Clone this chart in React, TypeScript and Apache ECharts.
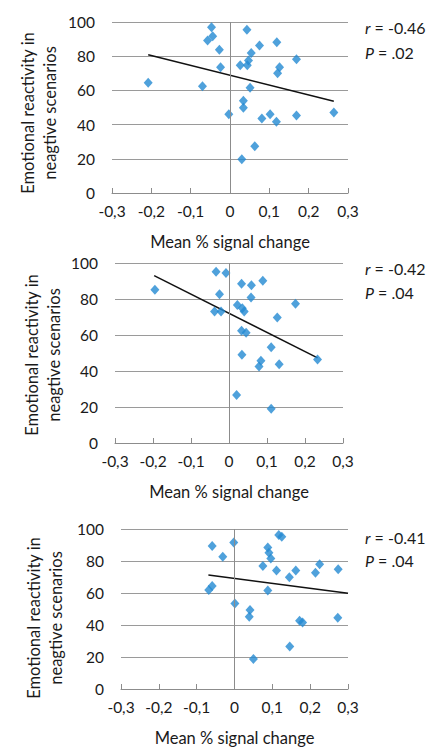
import React, { useEffect, useRef } from "react";
import * as echarts from "echarts";

// Panel 1 data: [mean % signal change, emotional reactivity]
const panel1Points: number[][] = [
  [-0.208, 64.5], [-0.07, 62.5], [-0.047, 96.9], [-0.057, 89.2], [-0.044, 91.6],
  [-0.027, 83.7], [-0.024, 73.5], [-0.003, 46.1], [0.043, 95.5], [0.026, 74.7],
  [0.044, 74.7], [0.047, 77.5], [0.054, 81.8], [0.075, 86.3], [0.051, 61.6],
  [0.034, 53.9], [0.034, 49.8], [0.063, 27.3], [0.03, 19.8], [0.081, 43.5],
  [0.102, 46.1], [0.118, 41.6], [0.119, 88.2], [0.126, 73.5], [0.121, 70.0],
  [0.169, 78.2], [0.169, 45.3], [0.264, 47.1],
];
const panel1Trend: number[][] = [[-0.208, 80.8], [0.264, 53.7]];

const panel2Points: number[][] = [
  [-0.195, 85.2], [-0.034, 95.2], [-0.008, 94.5], [-0.025, 82.6], [-0.038, 73.0],
  [-0.021, 73.0], [0.033, 88.5], [0.059, 87.6], [0.089, 90.2], [0.058, 80.8],
  [0.022, 76.7], [0.035, 74.9], [0.04, 73.0], [0.033, 62.3], [0.045, 61.2],
  [0.034, 49.0], [0.084, 45.7], [0.079, 42.5], [0.111, 53.2], [0.127, 69.7],
  [0.132, 43.8], [0.175, 77.4], [0.233, 46.4], [0.02, 26.6], [0.111, 19.0],
];
const panel2Trend: number[][] = [[-0.197, 93.0], [0.233, 47.3]];

const panel3Points: number[][] = [
  [-0.059, 89.4], [-0.031, 82.7], [-0.002, 91.5], [-0.068, 61.9], [-0.059, 64.4],
  [0.001, 53.5], [0.041, 49.4], [0.039, 45.2], [0.05, 18.8], [0.075, 76.9],
  [0.088, 61.5], [0.111, 74.0], [0.088, 88.5], [0.091, 85.2], [0.096, 81.5],
  [0.117, 96.3], [0.125, 95.2], [0.145, 69.8], [0.162, 74.0], [0.146, 26.5],
  [0.172, 42.7], [0.18, 41.5], [0.214, 72.7], [0.225, 77.9], [0.274, 74.8],
  [0.273, 44.6],
];
const panel3Trend: number[][] = [[-0.069, 71.3], [0.3, 59.8]];

const rValues = ["-0.46", "-0.42", "-0.41"];
const pValues = [".02", ".04", ".04"];

const xAxisTitle = "Mean % signal change";
const yAxisTitleLines = ["Emotional reactivity in", "neagtive scenarios"];

const X_MIN = -0.3;
const X_MAX = 0.3;
const X_STEP = 0.1;
const Y_MIN = 0;
const Y_MAX = 100;
const Y_STEP = 20;

const FONT = "Lato, 'Open Sans', sans-serif";
const MARKER = "#2389d2";
const GRID_COLOR = "#9a9a9a";
const TEXT = "#1a1a1a";

const formatX = (v: number) => {
  const r = Math.round(v * 10) / 10;
  if (r === 0) return "0";
  return r.toFixed(1).replace(".", ",");
};

export default function App() {
  const ref = useRef<HTMLDivElement>(null);

  useEffect(() => {
    if (!ref.current) return;
    const chart = echarts.init(ref.current, undefined, { renderer: "svg" });

    const panels = [
      { pts: panel1Points, trend: panel1Trend, left: 112, top: 22, width: 236, height: 171, yNameX: 39, yNameY: 113, annX: 365, rY: 27, pY: 52 },
      { pts: panel2Points, trend: panel2Trend, left: 115, top: 263, width: 228, height: 180, yNameX: 43, yNameY: 355, annX: 365, rY: 268, pY: 292 },
      { pts: panel3Points, trend: panel3Trend, left: 121, top: 529, width: 227, height: 160, yNameX: 45, yNameY: 618, annX: 365, rY: 537, pY: 560 },
    ];

    const grid: any[] = [];
    const xAxis: any[] = [];
    const yAxis: any[] = [];
    const series: any[] = [];
    const graphic: any[] = [];

    panels.forEach((p, i) => {
      grid.push({ left: p.left, top: p.top, width: p.width, height: p.height, containLabel: false });
      xAxis.push({
        type: "value",
        gridIndex: i,
        min: X_MIN,
        max: X_MAX,
        interval: X_STEP,
        name: xAxisTitle,
        nameLocation: "middle",
        nameGap: 40,
        nameTextStyle: { fontFamily: FONT, fontSize: 16.5, color: TEXT },
        axisLine: { show: true, onZero: false, lineStyle: { color: "#8c8c8c", width: 1 } },
        axisTick: { show: true, inside: true, length: 5, lineStyle: { color: "#8c8c8c" } },
        axisLabel: { formatter: formatX, fontFamily: FONT, fontSize: 15.5, color: TEXT, margin: 10 },
        splitLine: { show: false },
      });
      yAxis.push({
        type: "value",
        gridIndex: i,
        min: Y_MIN,
        max: Y_MAX,
        interval: Y_STEP,
        axisLine: { show: false },
        axisTick: { show: false },
        axisLabel: { fontFamily: FONT, fontSize: 15.5, color: TEXT, margin: 17 },
        splitLine: { show: true, lineStyle: { color: GRID_COLOR, width: 1 } },
      });
      series.push({
        type: "line",
        xAxisIndex: i,
        yAxisIndex: i,
        data: p.trend,
        symbol: "none",
        lineStyle: { color: "#111", width: 1.5 },
        silent: true,
        z: 3,
        markLine: {
          silent: true,
          symbol: ["none", "none"],
          label: { show: false },
          lineStyle: { color: "#8c8c8c", width: 1, type: "solid" },
          data: [{ xAxis: 0 }],
        },
      });
      series.push({
        type: "scatter",
        xAxisIndex: i,
        yAxisIndex: i,
        data: p.pts,
        symbol: "diamond",
        symbolSize: [9, 10],
        itemStyle: { color: MARKER },
        z: 4,
      });
      graphic.push({
        type: "text",
        x: p.yNameX,
        y: p.yNameY,
        rotation: Math.PI / 2,
        style: {
          text: yAxisTitleLines.join("\n"),
          font: `16.5px ${FONT}`,
          fill: TEXT,
          textAlign: "center",
          textVerticalAlign: "middle",
          lineHeight: 22,
        },
      });
      graphic.push({
        type: "text",
        x: p.annX,
        y: p.rY,
        style: {
          text: `{i|r} = ${rValues[i]}`,
          rich: { i: { fontStyle: "italic", fontFamily: FONT, fontSize: 16, fill: TEXT } },
          font: `16px ${FONT}`,
          fill: TEXT,
          textVerticalAlign: "middle",
        },
      });
      graphic.push({
        type: "text",
        x: p.annX,
        y: p.pY,
        style: {
          text: `{i|P} = ${pValues[i]}`,
          rich: { i: { fontStyle: "italic", fontFamily: FONT, fontSize: 16, fill: TEXT } },
          font: `16px ${FONT}`,
          fill: TEXT,
          textVerticalAlign: "middle",
        },
      });
    });

    chart.setOption({
      animation: false,
      backgroundColor: "#ffffff",
      grid,
      xAxis,
      yAxis,
      series,
      graphic,
    });

    return () => chart.dispose();
  }, []);

  return (
    <div
      ref={ref}
      style={{ position: "fixed", left: 0, top: 0, width: 440, height: 753, background: "#fff" }}
    />
  );
}
